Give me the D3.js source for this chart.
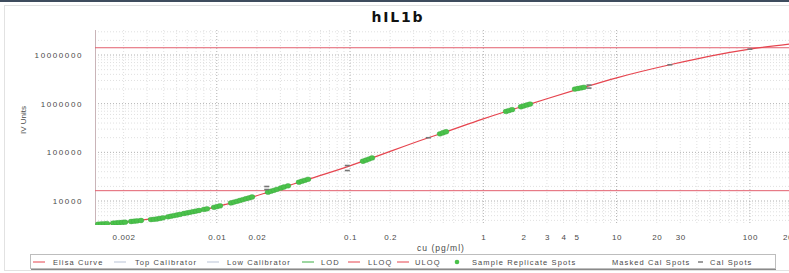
<!DOCTYPE html>
<html>
<head>
<meta charset="utf-8">
<script src="https://cdn.jsdelivr.net/npm/d3@7"></script>
<style>
    body { margin: 0; background: #fff; }
    svg { display: block; font-family: "Liberation Sans", Arial, sans-serif; }
</style>
</head>
<body>
<div id="chart"></div>
<script>
// values
const chartTitle = "hIL1b";
const xTitle = "cu (pg/ml)";
const yTitle = "IV Units";

const concTicks = [0.002, 0.01, 0.02, 0.1, 0.2, 1, 2, 3, 4, 5, 10, 20, 30, 100, 200];
const signalTicks = [10000, 100000, 1000000, 10000000];

// fitted elisa curve
const curveConc = [0.00126, 0.00199, 0.00355, 0.00631, 0.01, 0.0133, 0.0188, 0.0237, 0.0447, 0.0971, 0.1334,
    0.387, 0.501, 0.973, 1.54, 2.117, 5.01, 10, 25.1, 50.2, 100, 200];
const curveSignal = [3325, 3653, 4450, 5700, 7640, 9400, 12250, 14900, 26000, 51600, 70000,
    199500, 252600, 476000, 715000, 935000, 1950000, 3400000, 6300000, 9490000, 13200000, 16900000];

// sample replicate spots (green)
const sampleConc = [0.00129, 0.00136, 0.00143, 0.00150, 0.00167, 0.00176, 0.00185, 0.00195, 0.00205,
    0.00228, 0.00240, 0.00252, 0.00270, 0.00321, 0.00338, 0.00356, 0.00375, 0.00395,
    0.00431, 0.00454, 0.00478, 0.00504, 0.00530, 0.00568, 0.00598, 0.00630, 0.00664, 0.00699, 0.00736,
    0.00802, 0.00845, 0.00954, 0.01005, 0.01058,
    0.01279, 0.01347, 0.01419, 0.01495, 0.01574, 0.01658, 0.01746, 0.01839,
    0.02424, 0.02553, 0.02689, 0.02831, 0.03034, 0.03195, 0.03424,
    0.0414, 0.0436, 0.0459, 0.0484,
    0.125, 0.1317, 0.1387, 0.1461,
    0.473, 0.4985, 0.525,
    1.48, 1.559, 1.642,
    1.918, 2.02, 2.127, 2.24,
    4.87, 5.13, 5.41, 5.69];
const sampleSignal = [3340, 3370, 3400, 3435, 3517, 3550, 3601, 3636, 3670,
    3794, 3848, 3903, 3979, 4151, 4210, 4271, 4393, 4519,
    4738, 4874, 5014, 5158, 5306, 5537, 5696, 5861, 6030, 6203, 6381,
    6721, 6914, 7424, 7674, 7970,
    9140, 9494, 9858, 10287, 10684, 11149, 11580, 12082,
    15160, 15890, 16590, 17390, 18490, 19390, 20510,
    24330, 25510, 26610, 27900,
    65650, 69170, 72870, 76740,
    239800, 252600, 264900,
    691500, 721600, 753000,
    863700, 901300, 940500, 981300,
    1994000, 2052000, 2111000, 2172000];

// calibrator spots (grey dashes)
const calConc = [0.0237, 0.0237, 0.0954, 0.0954, 0.387, 6.21, 6.21, 25.1, 100];
const calSignal = [19860, 17220, 53580, 42300, 199500, 2410000, 2090000, 6300000, 13200000];

// quantification limits
const uloqSignal = 14100000;
const lloqSignal = 16300;

const legendLabels = ["Elisa Curve", "Top Calibrator", "Low Calibrator", "LOD", "LLOQ", "ULOQ",
    "Sample Replicate Spots", "Masked Cal Spots", "Cal Spots"];


class ElisaVis {

    constructor(parentElement) {
        this.parentElement = parentElement;
        this.initVis();
    }

    initVis() {
        let vis = this;

        vis.margin = {top: 30, right: 0, bottom: 48, left: 95};
        vis.width = 695;
        vis.height = 195;

        vis.root = d3.select("#" + vis.parentElement).append("svg")
            .attr("width", 789)
            .attr("height", 273);

        // window frame bits
        vis.root.append("rect")
            .attr("x", 0).attr("y", 0).attr("width", 789).attr("height", 2)
            .attr("fill", "#3e4c5e");
        vis.root.append("rect")
            .attr("x", 4.5).attr("y", 5.5).attr("width", 800).attr("height", 265)
            .attr("fill", "none").attr("stroke", "#e2e2e2");

        vis.svg = vis.root.append("g")
            .attr("transform", `translate(${vis.margin.left}, ${vis.margin.top})`);

        // scales
        vis.x = d3.scaleLog()
            .domain([0.00122, 200])
            .range([0, vis.width]);

        vis.y = d3.scaleLog()
            .domain([3213, 32640000])
            .range([vis.height, 0]);

        vis.svg.append("clipPath").attr("id", "plotClip")
            .append("rect")
            .attr("width", vis.width)
            .attr("height", vis.height);

        vis.updateVis();
    }

    updateVis() {
        let vis = this;
        let isMajor = v => Math.abs(Math.log10(v) - Math.round(Math.log10(v))) < 1e-9;

        // grid
        let grid = vis.svg.append("g").attr("class", "grid");

        grid.selectAll(".vgrid")
            .data(vis.x.ticks())
            .enter().append("line")
            .attr("x1", d => vis.x(d)).attr("x2", d => vis.x(d))
            .attr("y1", 0).attr("y2", vis.height)
            .attr("stroke", d => isMajor(d) ? "#b0b0b0" : "#e0e0e0")
            .attr("stroke-dasharray", "1,2");

        grid.selectAll(".hgrid")
            .data(vis.y.ticks())
            .enter().append("line")
            .attr("x1", 0).attr("x2", vis.width)
            .attr("y1", d => vis.y(d)).attr("y2", d => vis.y(d))
            .attr("stroke", d => isMajor(d) ? "#b0b0b0" : "#e0e0e0")
            .attr("stroke-dasharray", "1,2");

        // left border
        vis.svg.append("line")
            .attr("x1", 0.5).attr("x2", 0.5).attr("y1", 0).attr("y2", vis.height)
            .attr("stroke", "#c9b4b8");

        // axes
        vis.xAxisGroup = vis.svg.append("g")
            .attr("class", "axis x-axis")
            .attr("transform", `translate(0, ${vis.height})`)
            .call(d3.axisBottom(vis.x).tickValues(concTicks).tickSize(0).tickPadding(9).tickFormat(d => d));

        vis.yAxisGroup = vis.svg.append("g")
            .attr("class", "axis y-axis")
            .call(d3.axisLeft(vis.y).tickValues(signalTicks).tickSize(0).tickPadding(12).tickFormat(d => d));

        vis.svg.selectAll(".axis .domain").remove();
        vis.xAxisGroup.selectAll("text")
            .attr("font-size", "8px")
            .attr("letter-spacing", "0.6px")
            .attr("fill", "#4a4a4a");
        vis.yAxisGroup.selectAll("text")
            .attr("font-size", "8px")
            .attr("letter-spacing", "1.6px")
            .attr("fill", "#4a4a4a");

        // titles
        vis.root.append("text")
            .attr("x", 398).attr("y", 21.5)
            .attr("text-anchor", "middle")
            .attr("font-family", "'DejaVu Sans', sans-serif")
            .attr("font-weight", "bold")
            .attr("font-size", "14px")
            .attr("letter-spacing", "1.8px")
            .attr("fill", "#111")
            .text(chartTitle);

        vis.root.append("text")
            .attr("x", 441).attr("y", 251)
            .attr("text-anchor", "middle")
            .attr("font-size", "8.5px")
            .attr("letter-spacing", "1px")
            .attr("fill", "#4a4a4a")
            .text(xTitle);

        vis.root.append("text")
            .attr("transform", "translate(25.5, 120) rotate(-90)")
            .attr("text-anchor", "middle")
            .attr("font-size", "8px")
            .attr("fill", "#4a4a4a")
            .text(yTitle);

        let plot = vis.svg.append("g").attr("clip-path", "url(#plotClip)");

        // limit lines
        plot.selectAll(".limit")
            .data([uloqSignal, lloqSignal])
            .enter().append("line")
            .attr("class", "limit")
            .attr("x1", 0).attr("x2", vis.width)
            .attr("y1", d => vis.y(d)).attr("y2", d => vis.y(d))
            .attr("stroke", "#e2606e")
            .attr("stroke-width", 1);

        // curve
        let curveData = curveConc.map((c, i) => ({conc: c, signal: curveSignal[i]}));
        let line = d3.line()
            .x(d => vis.x(d.conc))
            .y(d => vis.y(d.signal))
            .curve(d3.curveMonotoneX);

        plot.append("path")
            .datum(curveData)
            .attr("d", line)
            .attr("fill", "none")
            .attr("stroke", "#e6454f")
            .attr("stroke-width", 1.2);

        // sample spots
        let sampleData = sampleConc.map((c, i) => ({conc: c, signal: sampleSignal[i]}));
        plot.selectAll(".sample")
            .data(sampleData)
            .enter().append("ellipse")
            .attr("class", "sample")
            .attr("cx", d => vis.x(d.conc))
            .attr("cy", d => vis.y(d.signal))
            .attr("rx", 2.9)
            .attr("ry", 2.4)
            .attr("fill", "#4bc24b")
            .attr("stroke", "#3aa63e")
            .attr("stroke-width", 0.4);

        // cal spots
        let calData = calConc.map((c, i) => ({conc: c, signal: calSignal[i]}));
        plot.selectAll(".cal")
            .data(calData)
            .enter().append("rect")
            .attr("class", "cal")
            .attr("x", d => vis.x(d.conc) - 2.5)
            .attr("y", d => vis.y(d.signal) - 0.8)
            .attr("width", 5)
            .attr("height", 1.6)
            .attr("fill", "#767676");

        vis.drawLegend();
    }

    drawLegend() {
        let vis = this;

        let symbols = ["line", "line", "line", "line", "line", "line", "dot", "none", "dash"];
        let colors = ["#e6454f", "#b9c3d6", "#b9c3d6", "#3cae44", "#e6454f", "#e6454f", "#4bc24b", "none", "#767676"];
        let symbolX = [33, 114, 207, 302, 348, 397, 457, 600, 698];
        let textX = [53, 135, 227, 321, 368, 415, 472, 612, 710];

        let legend = vis.root.append("g").attr("class", "legend");

        legend.append("rect")
            .attr("x", 30.5).attr("y", 254.5)
            .attr("width", 745).attr("height", 14)
            .attr("fill", "#fff")
            .attr("stroke", "#bdbdbd");
        legend.append("line")
            .attr("x1", 31).attr("x2", 776).attr("y1", 269.5).attr("y2", 269.5)
            .attr("stroke", "#8a8a8a");

        let items = legend.selectAll(".item")
            .data(legendLabels)
            .enter().append("g")
            .attr("class", "item");

        items.each(function (d, i) {
            let g = d3.select(this);
            if (symbols[i] === "line") {
                g.append("line")
                    .attr("x1", symbolX[i]).attr("x2", symbolX[i] + 12)
                    .attr("y1", 262).attr("y2", 262)
                    .attr("stroke", colors[i]);
            } else if (symbols[i] === "dot") {
                g.append("circle")
                    .attr("cx", symbolX[i]).attr("cy", 262).attr("r", 2.3)
                    .attr("fill", colors[i]);
            } else if (symbols[i] === "dash") {
                g.append("rect")
                    .attr("x", symbolX[i]).attr("y", 261.3)
                    .attr("width", 5).attr("height", 1.4)
                    .attr("fill", colors[i]);
            }
            g.append("text")
                .attr("x", textX[i]).attr("y", 265)
                .attr("font-size", "7.5px")
                .attr("letter-spacing", "1.1px")
                .attr("fill", "#4a4a4a")
                .text(d);
        });
    }
}

new ElisaVis("chart");
</script>
</body>
</html>
